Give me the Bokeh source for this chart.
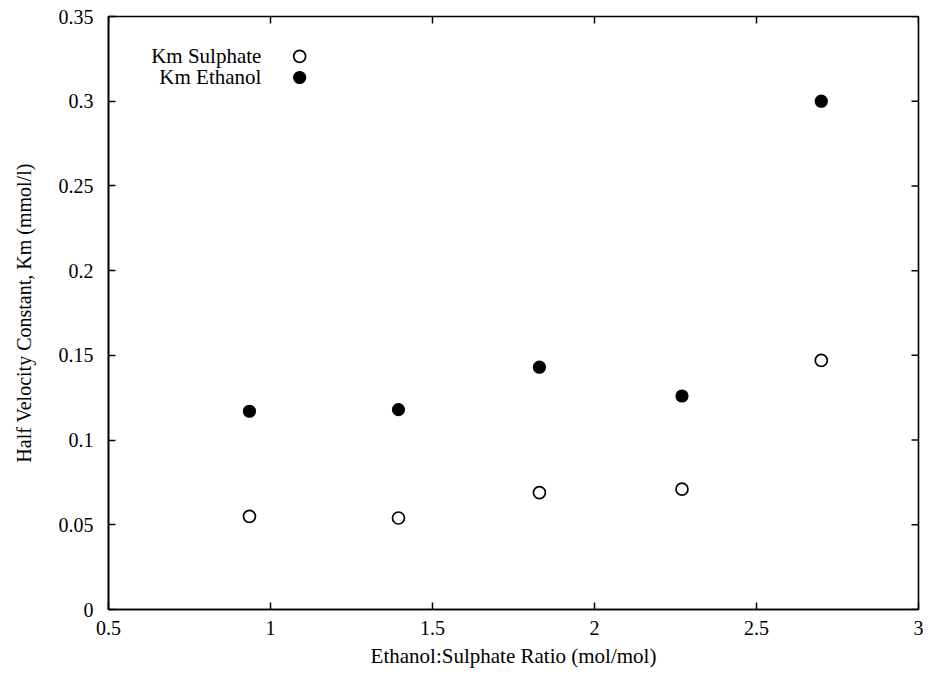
from bokeh.plotting import figure
from bokeh.models import FixedTicker, Range1d, Label
from bokeh.embed import file_html
from bokeh.resources import INLINE

# ---- data ----
ratio = [0.935, 1.395, 1.83, 2.27, 2.70]
km_sulphate = [0.055, 0.054, 0.069, 0.071, 0.147]
km_ethanol = [0.117, 0.118, 0.143, 0.126, 0.300]

x_ticks = [0.5, 1.0, 1.5, 2.0, 2.5, 3.0]
x_tick_labels = ["0.5", "1", "1.5", "2", "2.5", "3"]
y_ticks = [0.0, 0.05, 0.1, 0.15, 0.2, 0.25, 0.3, 0.35]
y_tick_labels = ["0", "0.05", "0.1", "0.15", "0.2", "0.25", "0.3", "0.35"]

series_names = ["Km Sulphate", "Km Ethanol"]

X_MIN, X_MAX = 0.5, 3.0
Y_MIN, Y_MAX = 0.0, 0.35

FONT = "'Liberation Serif', 'Times New Roman', serif"
TICK_FS = "20px"

p = figure(width=928, height=674, output_backend="svg", toolbar_location=None,
           x_range=Range1d(X_MIN, X_MAX), y_range=Range1d(Y_MIN, Y_MAX),
           min_border_left=108, min_border_right=10, min_border_top=16,
           min_border_bottom=65)
p.background_fill_color = "white"
p.border_fill_color = "white"
p.xgrid.visible = False
p.ygrid.visible = False
p.outline_line_color = "black"
p.outline_line_width = 1.6


def style_axis(ax, ticks, labels):
    ax.ticker = FixedTicker(ticks=ticks, minor_ticks=[])
    ax.major_tick_in = 7
    ax.major_tick_out = 0
    ax.minor_tick_in = 0
    ax.minor_tick_out = 0
    ax.major_tick_line_width = 1.5
    ax.major_tick_line_color = "black"
    ax.axis_line_color = "black"
    ax.axis_line_width = 1.6
    ax.major_label_overrides = {t: l for t, l in zip(ticks, labels)}
    ax.major_label_text_font = FONT
    ax.major_label_text_font_size = TICK_FS
    ax.major_label_text_color = "black"
    ax.axis_label_text_font = FONT
    ax.axis_label_text_font_style = "normal"
    ax.axis_label_text_color = "black"


xa = p.xaxis[0]
style_axis(xa, x_ticks, x_tick_labels)
xa.axis_label = "Ethanol:Sulphate Ratio (mol/mol)"
xa.axis_label_text_font_size = "21px"
xa.major_label_standoff = 11
xa.axis_label_standoff = 6

ya = p.yaxis[0]
style_axis(ya, y_ticks, y_tick_labels)
ya.axis_label = "Half Velocity Constant, Km (mmol/l)"
ya.axis_label_text_font_size = "20px"
ya.major_label_standoff = 15
ya.axis_label_standoff = 21

# inward ticks on the top and right borders (mirrors of the bottom/left ticks)
p.ray(x=x_ticks, y=[Y_MAX] * len(x_ticks), length=7, length_units="screen",
      angle=-90, angle_units="deg", line_color="black", line_width=1.5)
p.ray(x=[X_MAX] * len(y_ticks), y=y_ticks, length=7, length_units="screen",
      angle=180, angle_units="deg", line_color="black", line_width=1.5)

# data points
p.scatter(ratio, km_sulphate, marker="circle", size=12, fill_color="white",
          line_color="black", line_width=1.7)
p.scatter(ratio, km_ethanol, marker="circle", size=12, fill_color="black",
          line_color="black", line_width=1.2)

# legend (text right-aligned, marker on the right, as in the original)
leg_text_x = 0.972
leg_mark_x = 1.09
leg_y = [0.3265, 0.314]
for name, yy in zip(series_names, leg_y):
    p.add_layout(Label(x=leg_text_x, y=yy, text=name, text_align="right",
                       text_baseline="middle", text_font=FONT,
                       text_font_size="21px", text_color="black"))
p.scatter([leg_mark_x], [leg_y[0]], marker="circle", size=12, fill_color="white",
          line_color="black", line_width=1.7)
p.scatter([leg_mark_x], [leg_y[1]], marker="circle", size=12, fill_color="black",
          line_color="black", line_width=1.2)

open("out.html", "w").write(file_html(p, INLINE))
